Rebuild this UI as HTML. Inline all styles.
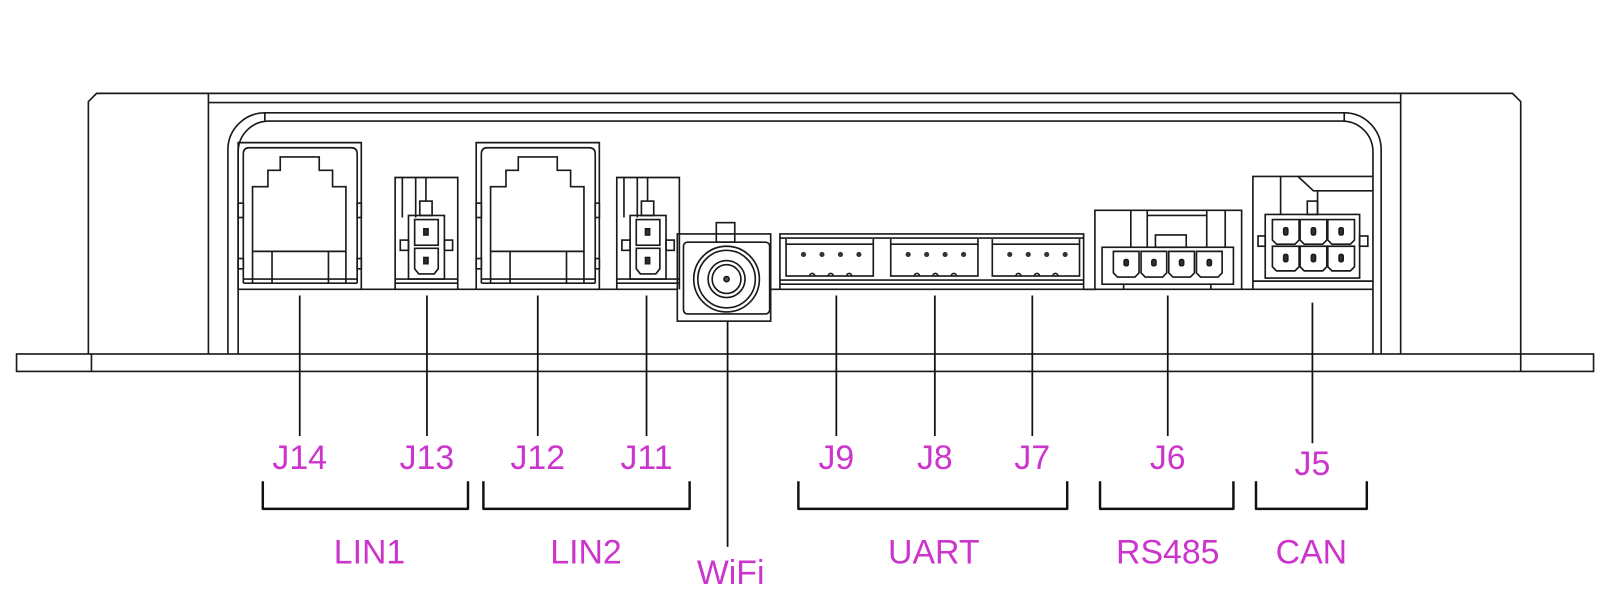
<!DOCTYPE html>
<html><head><meta charset="utf-8"><style>
html,body{margin:0;padding:0;background:#fff;}
svg{display:block;}
text{font-family:"Liberation Sans",sans-serif;fill:#cc35cc;}
</style></head><body>
<svg width="1606" height="611" viewBox="0 0 1565 595.5" xmlns="http://www.w3.org/2000/svg">
<g fill="none" stroke="#1a1a1a" stroke-width="1.6">
<rect x="16" y="345" width="1537" height="17"/>
<line x1="89" y1="345" x2="89" y2="362"/>
<line x1="1482" y1="345" x2="1482" y2="362"/>
<path d="M86,345 V99 L94,91 H1474 L1482,99 V345"/>
<line x1="203" y1="91" x2="203" y2="345"/>
<line x1="1365" y1="91" x2="1365" y2="345"/>
<line x1="203" y1="100" x2="1365" y2="100"/>
<path d="M222,345 V146 A36 36 0 0 1 258,110 H1310 A36 36 0 0 1 1346,146 V345"/>
<path d="M232,345 V148 A30 30 0 0 1 262,118 H1308 A30 30 0 0 1 1338,148 V345"/>
<line x1="258" y1="110" x2="258" y2="118"/>
<line x1="1310" y1="110" x2="1310" y2="118"/>
<line x1="232" y1="282" x2="660" y2="282"/>
<line x1="751" y1="282" x2="1338" y2="282"/>

<g id="rj">
<path d="M232,282 V139 H352 V282"/>
<path d="M237,276 V150 Q237,144 243,144 H342 Q348,144 348,150 V276"/>
<path d="M246,276 V182 H261 V166 H273 V153 H311 V166 H324 V182 H337 V276"/>
<line x1="246" y1="245" x2="337" y2="245"/>
<line x1="265" y1="245" x2="265" y2="276"/>
<line x1="320" y1="245" x2="320" y2="276"/>
<line x1="237" y1="272" x2="348" y2="272"/>
<line x1="237" y1="276" x2="348" y2="276"/>
<rect x="232" y="198" width="5" height="14"/>
<rect x="348" y="198" width="4" height="14"/>
<rect x="232" y="252" width="5" height="10"/>
<rect x="348" y="252" width="4" height="10"/>
</g>
<use href="#rj" transform="translate(232,0)"/>

<g id="p2">
<path d="M385,282 V173 H446 V282"/>
<line x1="392" y1="173" x2="392" y2="212"/>
<line x1="405" y1="173" x2="405" y2="212"/>
<line x1="415" y1="173" x2="415" y2="196"/>
<rect x="409" y="196" width="12" height="14"/>
<rect x="398" y="210" width="35" height="62"/>
<rect x="404" y="214" width="23" height="25"/>
<path d="M404,242 H427 V262 L423,267 H408 L404,262 Z"/>
<rect x="413" y="223" width="4" height="6" fill="#333"/>
<rect x="413" y="251" width="4" height="6" fill="#333"/>
<rect x="390" y="234" width="8" height="10"/>
<rect x="433" y="234" width="8" height="10"/>
<line x1="385" y1="272" x2="446" y2="272"/>
<line x1="385" y1="276" x2="446" y2="276"/>
</g>
<use href="#p2" transform="translate(216,0)"/>

<rect x="660" y="228" width="91" height="85"/>
<rect x="666" y="236" width="84" height="70" rx="4"/>
<rect x="698" y="217" width="18" height="19"/>
<circle cx="708" cy="272" r="32"/>
<circle cx="708" cy="272" r="28"/>
<circle cx="708" cy="272" r="18"/>
<circle cx="708" cy="272" r="14"/>
<circle cx="708" cy="272" r="2.5" fill="#555"/>

<path d="M760,282 V228 H1056 V282"/>
<line x1="760" y1="232" x2="1056" y2="232"/>
<line x1="760" y1="273" x2="1056" y2="273"/>
<line x1="760" y1="277" x2="1056" y2="277"/>
<g id="u4">
<rect x="766" y="238" width="85" height="31"/>
<line x1="766" y1="233" x2="766" y2="238"/>
<line x1="851" y1="233" x2="851" y2="238"/>
<g fill="#333" stroke="none">
<circle cx="783" cy="248" r="2.5"/><circle cx="801" cy="248" r="2.5"/><circle cx="819" cy="248" r="2.5"/><circle cx="837" cy="248" r="2.5"/>
</g>
<path d="M789,269 a2.5,2.5 0 0 1 5,0 M807,269 a2.5,2.5 0 0 1 5,0 M825,269 a2.5,2.5 0 0 1 5,0"/>
</g>
<use href="#u4" transform="translate(102,0)"/>
<use href="#u4" transform="translate(201,0)"/>

<path d="M1056,282 H1067 V205 H1210 V282"/>
<line x1="1102" y1="205" x2="1102" y2="241"/>
<line x1="1118" y1="205" x2="1118" y2="241"/>
<line x1="1176" y1="205" x2="1176" y2="241"/>
<line x1="1194" y1="205" x2="1194" y2="241"/>
<line x1="1118" y1="210" x2="1176" y2="210"/>
<rect x="1126" y="229" width="30" height="12"/>
<rect x="1074" y="241" width="128" height="36"/>
<g id="c6">
<path d="M1085,245 H1110 V266 L1106,270 H1089 L1085,266 Z"/>
<rect x="1095.5" y="253" width="4" height="6" rx="1.5" fill="#333"/>
</g>
<use href="#c6" transform="translate(27,0)"/>
<use href="#c6" transform="translate(54,0)"/>
<use href="#c6" transform="translate(81,0)"/>
<line x1="1095" y1="277" x2="1095" y2="282"/>
<line x1="1180" y1="277" x2="1180" y2="282"/>

<path d="M1221,282 V172 H1338"/>
<line x1="1248" y1="172" x2="1248" y2="209"/>
<path d="M1265,172 L1280,186 H1338"/>
<line x1="1284" y1="186" x2="1284" y2="209"/>
<rect x="1274" y="196" width="10" height="13"/>
<rect x="1233" y="209" width="92" height="62"/>
<g id="c5">
<path d="M1240,214 H1266 V234 L1262,238 H1244 L1240,234 Z"/>
<rect x="1251" y="222" width="4" height="7" rx="1.5" fill="#333"/>
</g>
<use href="#c5" transform="translate(27,0)"/>
<use href="#c5" transform="translate(54,0)"/>
<use href="#c5" transform="translate(0,26)"/>
<use href="#c5" transform="translate(27,26)"/>
<use href="#c5" transform="translate(54,26)"/>
<line x1="1221" y1="274" x2="1338" y2="274"/>
<rect x="1226" y="230" width="7" height="10"/>
<rect x="1325" y="230" width="8" height="10"/>
</g>

<g stroke="#111" stroke-width="1.7">
<line x1="292" y1="288" x2="292" y2="425"/>
<line x1="416" y1="288" x2="416" y2="425"/>
<line x1="524" y1="288" x2="524" y2="425"/>
<line x1="630" y1="288" x2="630" y2="425"/>
<line x1="709" y1="313" x2="709" y2="533"/>
<line x1="815" y1="288" x2="815" y2="425"/>
<line x1="911" y1="288" x2="911" y2="425"/>
<line x1="1006" y1="288" x2="1006" y2="425"/>
<line x1="1138" y1="288" x2="1138" y2="425"/>
<line x1="1279" y1="295" x2="1279" y2="432"/>
</g>

<g fill="none" stroke="#111" stroke-width="2.4" stroke-linejoin="round">
<path d="M256,469 V496 H456 V469"/>
<path d="M471,469 V496 H672 V469"/>
<path d="M778,469 V496 H1040 V469"/>
<path d="M1072,469 V496 H1202 V469"/>
<path d="M1224,469 V496 H1332 V469"/>
</g>

<g font-size="33" text-anchor="middle">
<text x="292" y="457">J14</text>
<text x="416" y="457">J13</text>
<text x="524" y="457">J12</text>
<text x="630" y="457">J11</text>
<text x="815" y="457">J9</text>
<text x="911" y="457">J8</text>
<text x="1006" y="457">J7</text>
<text x="1138" y="457">J6</text>
<text x="1279" y="463">J5</text>
<text x="360" y="549">LIN1</text>
<text x="571" y="549">LIN2</text>
<text x="910" y="549">UART</text>
<text x="1138" y="549">RS485</text>
<text x="1278" y="549">CAN</text>
<text x="712" y="569">WiFi</text>
</g>
</svg>
</body></html>
